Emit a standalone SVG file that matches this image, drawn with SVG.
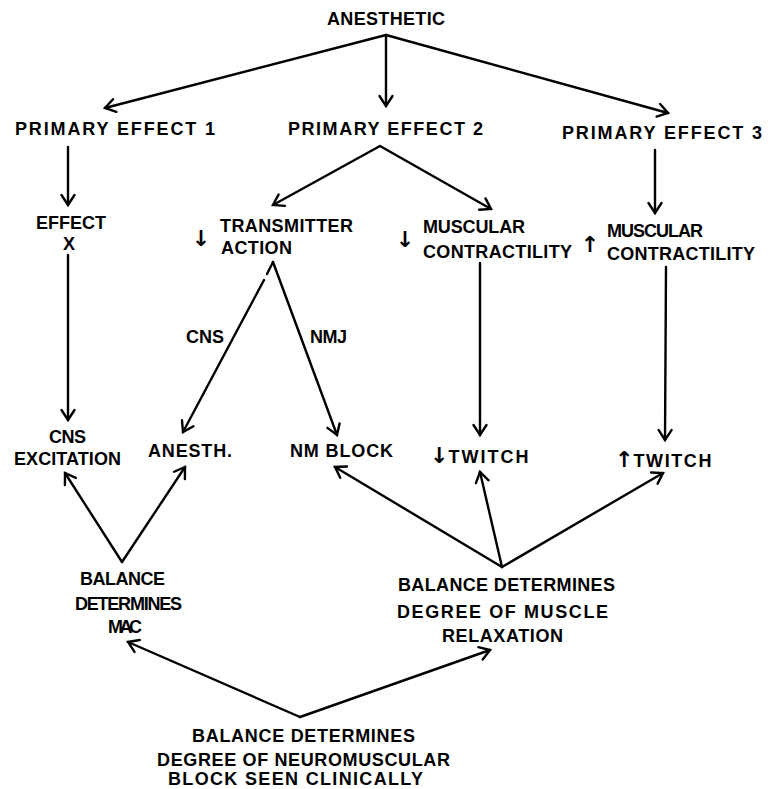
<svg xmlns="http://www.w3.org/2000/svg" width="774" height="789" viewBox="0 0 774 789">
<style>
text{font-family:"Liberation Sans",Arial,sans-serif;font-weight:bold;font-size:18px;fill:#000}
.ar{font-family:"DejaVu Sans",sans-serif;font-weight:bold;font-size:22px}
.c line,.c path{stroke:#000;stroke-width:2.4;fill:none;stroke-linecap:round}
</style>
<defs>
<marker id="ah" markerUnits="userSpaceOnUse" markerWidth="18" markerHeight="18" viewBox="0 0 18 18" refX="14" refY="9" orient="auto">
<path d="M4,2.5 L14,9 L4,15.5" fill="none" stroke="#000" stroke-width="2.4" stroke-linecap="round" stroke-linejoin="miter"/>
</marker>
</defs>
<rect width="774" height="789" fill="#fff"/>
<g class="c" id="connectors">
<line x1="386" y1="35" x2="105" y2="108" marker-end="url(#ah)"/>
<line x1="386" y1="35" x2="386" y2="106" marker-end="url(#ah)"/>
<line x1="386" y1="35" x2="668" y2="113" marker-end="url(#ah)"/>
<line x1="68" y1="147" x2="68" y2="205" marker-end="url(#ah)"/>
<line x1="380" y1="146" x2="273" y2="205" marker-end="url(#ah)"/>
<line x1="380" y1="146" x2="491" y2="209" marker-end="url(#ah)"/>
<line x1="655" y1="150" x2="655" y2="213" marker-end="url(#ah)"/>
<line x1="68" y1="255" x2="68" y2="420" marker-end="url(#ah)"/>
<line x1="273" y1="262" x2="267" y2="274"/>
<line x1="264" y1="280" x2="183" y2="432" marker-end="url(#ah)"/>
<line x1="273" y1="262" x2="337" y2="435" marker-end="url(#ah)"/>
<line x1="480" y1="263" x2="480" y2="435" marker-end="url(#ah)"/>
<line x1="666" y1="267" x2="665" y2="440" marker-end="url(#ah)"/>
<line x1="122" y1="562" x2="65" y2="473" marker-end="url(#ah)"/>
<line x1="122" y1="562" x2="185" y2="467" marker-end="url(#ah)"/>
<line x1="502" y1="567" x2="335" y2="467" marker-end="url(#ah)"/>
<line x1="502" y1="567" x2="480" y2="472" marker-end="url(#ah)"/>
<line x1="502" y1="567" x2="663" y2="473" marker-end="url(#ah)"/>
<line x1="300" y1="717" x2="128" y2="642" marker-end="url(#ah)"/>
<line x1="300" y1="717" x2="490" y2="650" marker-end="url(#ah)"/>
</g>
<g id="anesthetic"><text x="327" y="25" textLength="118" lengthAdjust="spacing">ANESTHETIC</text></g>
<g id="pe1"><text x="15" y="135" textLength="200" lengthAdjust="spacing">PRIMARY EFFECT 1</text></g>
<g id="pe2"><text x="288" y="135" textLength="195" lengthAdjust="spacing">PRIMARY EFFECT 2</text></g>
<g id="pe3"><text x="562" y="139" textLength="200" lengthAdjust="spacing">PRIMARY EFFECT 3</text></g>
<g id="effectx">
<text x="36" y="229" textLength="70" lengthAdjust="spacing">EFFECT</text>
<text x="69" y="250" text-anchor="middle">X</text>
</g>
<g id="transmitter">
<text class="ar" x="201" y="246" text-anchor="middle">↓</text>
<text x="220" y="232" textLength="133" lengthAdjust="spacing">TRANSMITTER</text>
<text x="221" y="254" textLength="71" lengthAdjust="spacing">ACTION</text>
</g>
<g id="musc-down">
<text class="ar" x="405" y="247" text-anchor="middle">↓</text>
<text x="423" y="233" textLength="102" lengthAdjust="spacing">MUSCULAR</text>
<text x="423" y="258" textLength="149" lengthAdjust="spacing">CONTRACTILITY</text>
</g>
<g id="musc-up">
<text class="ar" x="590" y="252" text-anchor="middle">↑</text>
<text x="607" y="237" textLength="96" lengthAdjust="spacing">MUSCULAR</text>
<text x="607" y="260" textLength="148" lengthAdjust="spacing">CONTRACTILITY</text>
</g>
<g id="cns-label"><text x="186" y="343" textLength="38" lengthAdjust="spacing">CNS</text></g>
<g id="nmj-label"><text x="310" y="343" textLength="37" lengthAdjust="spacing">NMJ</text></g>
<g id="cns-exc">
<text x="49" y="443" textLength="37" lengthAdjust="spacing">CNS</text>
<text x="14" y="465" textLength="107" lengthAdjust="spacing">EXCITATION</text>
</g>
<g id="anesth"><text x="148" y="457" textLength="84" lengthAdjust="spacing">ANESTH.</text></g>
<g id="nmblock"><text x="290" y="457" textLength="103" lengthAdjust="spacing">NM BLOCK</text></g>
<g id="twitch-down"><text x="430" y="463"><tspan class="ar">↓</tspan><tspan textLength="80" lengthAdjust="spacing">TWITCH</tspan></text></g>
<g id="twitch-up"><text x="615" y="467"><tspan class="ar">↑</tspan><tspan textLength="78" lengthAdjust="spacing">TWITCH</tspan></text></g>
<g id="mac">
<text x="80" y="585" textLength="85" lengthAdjust="spacing">BALANCE</text>
<text x="75" y="610" textLength="107" lengthAdjust="spacing">DETERMINES</text>
<text x="108" y="633" textLength="34" lengthAdjust="spacing">MAC</text>
</g>
<g id="relax">
<text x="398" y="591" textLength="217" lengthAdjust="spacing">BALANCE DETERMINES</text>
<text x="397" y="618" textLength="211" lengthAdjust="spacing">DEGREE OF MUSCLE</text>
<text x="442" y="642" textLength="121" lengthAdjust="spacing">RELAXATION</text>
</g>
<g id="clinical">
<text x="192" y="742" textLength="223" lengthAdjust="spacing">BALANCE DETERMINES</text>
<text x="157" y="766" textLength="293" lengthAdjust="spacing">DEGREE OF NEUROMUSCULAR</text>
<text x="168" y="785" textLength="255" lengthAdjust="spacing">BLOCK SEEN CLINICALLY</text>
</g>
</svg>
